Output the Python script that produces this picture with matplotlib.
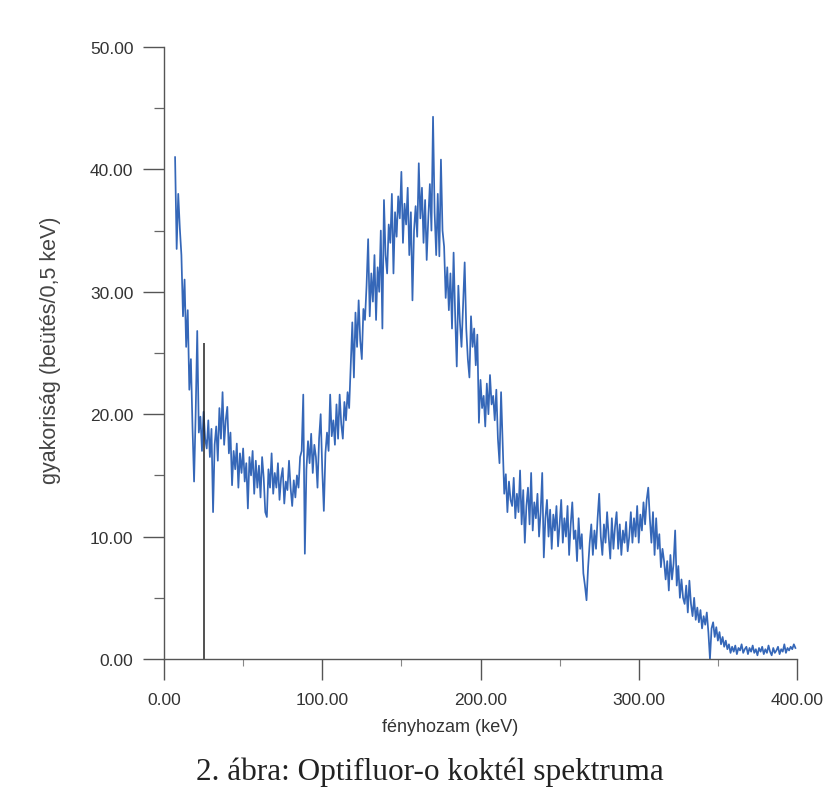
import matplotlib
matplotlib.use("Agg")
import matplotlib.pyplot as plt
import numpy as np
from matplotlib.ticker import MultipleLocator, FormatStrFormatter

# energy axis (keV), 1 keV steps starting at 7 keV
x_start = 7
counts = [
    41.0, 33.5, 38.0, 35.2, 33.0, 28.0, 31.0, 25.5, 28.5, 22.0,
    24.5, 19.0, 14.5, 20.0, 26.8, 18.5, 19.8, 17.0, 20.2, 18.0,
    17.2, 19.5, 16.5, 18.8, 12.0, 17.5, 19.0, 16.2, 20.5, 18.0,
    21.8, 17.5, 19.5, 20.6, 16.8, 18.5, 14.2, 17.0, 15.5, 17.6,
    14.0, 16.8, 15.2, 17.2, 14.5, 16.0, 12.3, 16.5, 15.0, 17.0,
    13.5, 16.2, 14.0, 15.8, 13.2, 16.5, 14.8, 12.0, 11.6, 15.5,
    14.0, 16.8, 13.5, 15.2, 14.0, 16.0, 13.0, 14.8, 15.6, 12.7,
    14.5, 13.8, 16.2, 14.0, 12.5, 14.6, 13.2, 15.0, 14.0, 16.5,
    17.0, 21.6, 8.6, 15.5, 17.8, 16.0, 18.4, 15.2, 17.5, 16.5,
    14.0, 18.0, 20.0, 15.5, 12.1, 16.8, 18.5, 17.0, 21.6, 18.2,
    19.5, 17.5, 20.8, 18.0, 21.6, 19.2, 18.0, 21.0, 19.5, 21.8,
    20.5, 24.0, 27.5, 23.0, 28.3, 25.5, 29.3, 26.0, 24.5, 28.6,
    27.7, 30.5, 34.3, 28.0, 31.5, 29.2, 33.0, 27.7, 32.0, 30.0,
    35.0, 27.0, 37.5, 33.0, 31.5, 35.5, 34.0, 38.0, 31.5, 36.5,
    34.5, 37.8, 36.0, 39.8, 34.0, 37.2, 35.5, 38.5, 33.0, 36.5,
    29.3, 35.0, 37.0, 34.5, 40.5, 36.0, 38.5, 34.0, 37.5, 32.6,
    36.0, 38.8, 35.0, 44.3, 36.5, 33.0, 38.0, 32.9, 40.8, 35.0,
    33.7, 29.5, 32.0, 28.5, 31.5, 27.0, 33.2, 28.0, 23.9, 30.5,
    27.5, 25.5, 29.0, 32.4, 27.0, 24.5, 23.0, 28.0, 25.5, 27.0,
    24.0, 26.5, 19.3, 22.8, 20.5, 21.5, 19.0, 22.5, 20.0, 23.2,
    20.8, 21.5, 19.5, 22.0, 18.0, 16.0, 21.8, 17.5, 13.5, 15.1,
    12.0, 14.5, 13.0, 12.5, 14.8, 11.5, 13.5, 12.0, 15.4, 11.0,
    13.8, 9.5, 12.5, 14.0, 11.0, 15.2, 10.5, 12.8, 11.5, 13.5,
    10.0, 12.0, 15.2, 8.3, 11.5, 13.0, 10.0, 12.2, 9.0, 11.8,
    10.5, 12.5, 9.2, 11.0, 13.0, 9.5, 11.5, 10.0, 12.5, 8.5,
    11.0, 12.8, 9.8, 10.5, 8.0, 11.5, 9.0, 10.2, 7.0, 6.0,
    4.8, 7.5, 9.5, 11.0, 8.5, 10.5, 9.0, 11.5, 13.5, 10.0,
    8.5, 11.0, 9.5, 12.0, 10.0, 8.2, 11.5, 9.0, 10.8, 12.0,
    9.0, 11.0, 8.5, 10.5, 9.5, 11.2, 8.8, 10.0, 12.0, 9.5,
    11.5, 10.0, 12.5, 9.5, 11.8, 10.5, 12.8, 11.0, 13.0, 14.0,
    11.5, 9.5, 12.0, 8.5, 11.5, 9.0, 10.2, 7.5, 9.0, 8.0,
    6.5, 8.0, 5.6, 8.5, 6.5, 7.8, 10.5, 6.0, 7.6, 5.0,
    6.5, 5.0, 4.5, 6.0, 3.8, 6.4, 4.5, 3.5, 5.0, 3.2,
    4.2, 3.0, 4.0, 2.5, 3.5, 2.8, 3.8, 2.2, 0.0, 2.5,
    3.0, 1.8, 2.6, 1.5, 2.2, 1.2, 1.8, 1.0, 1.5, 0.8,
    1.2, 0.5, 1.0, 0.6, 1.1, 0.4, 0.9, 0.7, 1.2, 0.5,
    0.8, 1.0, 0.4, 0.9, 0.6, 1.1, 0.5, 0.8, 0.3, 0.9,
    0.6, 1.0, 0.4, 0.8, 0.5, 1.1, 0.6, 0.3, 0.9, 0.5,
    0.7, 1.0, 0.4, 0.8, 0.6, 1.2, 0.5, 0.9, 0.7, 1.0,
    0.8, 1.2, 0.9,
]
energy = np.arange(x_start, x_start + len(counts))

# vertical marker line
marker_x = 25.5
marker_top = 25.8

x_ticks = [0, 100, 200, 300, 400]
y_ticks = [0, 10, 20, 30, 40, 50]

xlabel = "fényhozam (keV)"
ylabel = "gyakoriság (beütés/0,5 keV)"
caption = "2. ábra: Optifluor-o koktél spektruma"

W, H = 832, 812
fig = plt.figure(figsize=(W / 100, H / 100), dpi=100)
ax = fig.add_axes([164 / W, 1 - 660 / H, (797 - 164) / W, (660 - 48) / H])

ax.plot(energy, counts, color="#3567b8", lw=1.25, clip_on=False)
ax.vlines(marker_x, 0, marker_top, color="#222222", lw=1.1)

ax.set_xlim(0, 400)
ax.set_ylim(0, 50)
ax.set_xticks(x_ticks)
ax.set_yticks(y_ticks)
ax.xaxis.set_minor_locator(MultipleLocator(50))
ax.yaxis.set_minor_locator(MultipleLocator(5))
ax.xaxis.set_major_formatter(FormatStrFormatter("%.2f"))
ax.yaxis.set_major_formatter(FormatStrFormatter("%.2f"))

for s in ["top", "right"]:
    ax.spines[s].set_visible(False)
for s in ["left", "bottom"]:
    ax.spines[s].set_color("#555555")
    ax.spines[s].set_linewidth(1.0)

font = "Liberation Sans"
ax.tick_params(axis="both", which="major", direction="out", length=15,
               width=1.0, color="#555555", labelsize=12.5, labelcolor="#333333")
ax.tick_params(axis="x", which="major", pad=9)
ax.tick_params(axis="y", which="major", pad=7)
ax.tick_params(axis="x", which="minor", direction="out", length=5, width=0.8, color="#888888")
ax.tick_params(axis="y", which="minor", direction="out", length=7, width=0.9, color="#666666")
for lbl in ax.get_xticklabels() + ax.get_yticklabels():
    lbl.set_fontfamily(font)

fig.text(450 / W, 1 - 728 / H, xlabel, ha="center", va="center",
         fontsize=13, family=font, color="#333333")
fig.text(51 / W, 1 - 350 / H, ylabel, ha="center", va="center",
         rotation=90, fontsize=15.5, family=font, color="#444444")
fig.text(430 / W, 1 - 772 / H, caption, ha="center", va="center",
         fontsize=22.5, family="Liberation Serif", color="#222222")

fig.savefig("out.png", dpi=100, facecolor="white")
